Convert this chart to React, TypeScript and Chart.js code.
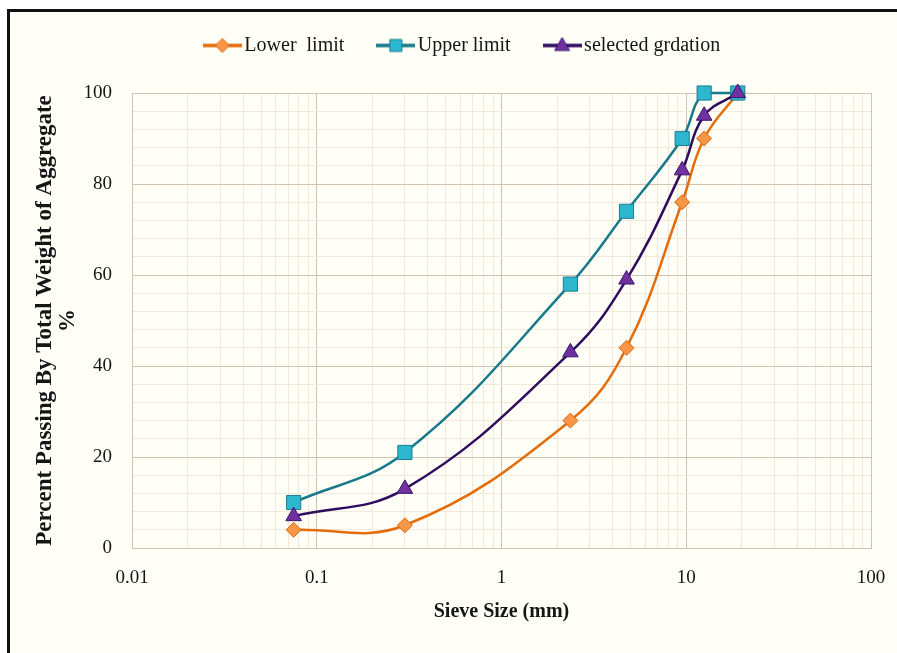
import React, { useEffect, useRef } from "react";
import { Chart, registerables } from "chart.js";

Chart.register(...registerables);

// ---- data ----
const sieveSizes = [0.075, 0.3, 2.36, 4.75, 9.5, 12.5, 19];
const lowerLimit = [4, 5, 28, 44, 76, 90, 100];
const upperLimit = [10, 21, 58, 74, 90, 100, 100];
const selectedGradation = [7, 13, 43, 59, 83, 95, 100];
const seriesNames = ["Lower  limit", "Upper limit", "selected grdation"];
const xDecades = [0.01, 0.1, 1, 10, 100];
const xTickLabels = ["0.01", "0.1", "1", "10", "100"];
const yTickLabels = ["0", "20", "40", "60", "80", "100"];
const xTitle = "Sieve Size (mm)";
const yTitle = ["Percent Passing By Total Weight of Aggregate", "%"];

// ---- styles ----
const FONT = "'Liberation Serif', 'Times New Roman', serif";
const GRID_MAJOR = "#d2c3b1";
const GRID_MINOR = "#f3e8da";
const TEXT = "#151515";

const seriesStyles = [
  { line: "#e46c0a", fill: "#f79646", edge: "#e0690a", shape: "rectRot", radius: 7.5 },
  { line: "#17798a", fill: "#2db6cf", edge: "#1b7d8f", shape: "rect", radius: 10 },
  { line: "#2e0d5e", fill: "#7030a0", edge: "#3b1670", shape: "triangle", radius: 9 },
];
// Chart.js draws higher "order" first (underneath): lower limit at bottom, selected on top
const drawOrder = [2, 1, 0];

function makeIcon(s: any): HTMLCanvasElement {
  const c = document.createElement("canvas");
  c.width = 39;
  c.height = 18;
  const ctx = c.getContext("2d")!;
  const cx = 19.5;
  const cy = 9;
  ctx.strokeStyle = s.line;
  ctx.lineWidth = 3.5;
  ctx.beginPath();
  ctx.moveTo(0, cy);
  ctx.lineTo(39, cy);
  ctx.stroke();
  ctx.beginPath();
  if (s.shape === "rectRot") {
    ctx.moveTo(cx - 7, cy);
    ctx.lineTo(cx, cy - 7);
    ctx.lineTo(cx + 7, cy);
    ctx.lineTo(cx, cy + 7);
  } else if (s.shape === "rect") {
    ctx.rect(cx - 6, cy - 6, 12, 12);
  } else {
    ctx.moveTo(cx, cy - 8);
    ctx.lineTo(cx + 7.5, cy + 5);
    ctx.lineTo(cx - 7.5, cy + 5);
  }
  ctx.closePath();
  ctx.fillStyle = s.fill;
  ctx.fill();
  ctx.strokeStyle = s.edge;
  ctx.lineWidth = 1;
  ctx.stroke();
  return c;
}

const LEGEND_PAD = 39.5;
const ICON_OVERHANG = 7.5;

const legendLayoutPlugin = {
  id: "legendLayout",
  beforeLayout(chart: any) {
    const lg = chart.legend;
    if (lg && !lg.__patched) {
      const orig = lg.fit;
      lg.fit = function () {
        orig.call(this);
        this.height = 93;
      };
      lg.__patched = true;
    }
  },
  afterLayout(chart: any) {
    const lg = chart.legend;
    if (!lg || !lg.lineWidths) return;
    const sum = lg.lineWidths[0];
    const x0 = (lg.left + LEGEND_PAD + lg.right - sum) / 2;
    const visStart = x0 - ICON_OVERHANG;
    const visEnd = x0 + sum - LEGEND_PAD;
    const dx = 461.5 - (visStart + visEnd) / 2;
    lg.left += dx;
    lg.right += dx;
    lg.top -= 4;
    lg.bottom -= 4;
  },
};

export default function App() {
  const ref = useRef<HTMLCanvasElement | null>(null);

  useEffect(() => {
    if (!ref.current) return;
    const icons = seriesStyles.map(makeIcon);
    const seriesValues = [lowerLimit, upperLimit, selectedGradation];

    const xGrid: number[] = [];
    for (let d = 0; d < xDecades.length - 1; d++) {
      for (let k = 1; k <= 9; k++) xGrid.push(xDecades[d] * k);
    }
    xGrid.push(xDecades[xDecades.length - 1]);

    const datasets = seriesValues.map((vals, i) => {
      const s = seriesStyles[i];
      return {
        label: seriesNames[i],
        data: vals.map((v, j) => ({ x: sieveSizes[j], y: v })),
        borderColor: s.line,
        backgroundColor: s.fill,
        borderWidth: 2.5,
        pointStyle: s.shape,
        pointRadius: s.radius,
        pointHoverRadius: s.radius,
        pointBackgroundColor: s.fill,
        pointBorderColor: s.edge,
        pointBorderWidth: 1,
        tension: 0.4,
        fill: false,
        clip: false,
        order: drawOrder[i],
      };
    });

    const chart = new Chart(ref.current, {
      type: "line",
      data: { datasets },
      plugins: [legendLayoutPlugin],
      options: {
        responsive: false,
        animation: false,
        devicePixelRatio: 1,
        layout: { padding: { left: 0, right: 26, top: 0, bottom: 0 } },
        plugins: {
          tooltip: { enabled: false },
          legend: {
            position: "top",
            align: "center",
            labels: {
              usePointStyle: true,
              pointStyleWidth: 24,
              padding: LEGEND_PAD,
              color: TEXT,
              font: { family: FONT, size: 20 },
              generateLabels: (c: any) => {
                const items = (Chart.defaults.plugins.legend.labels as any).generateLabels(c);
                return items.map((it: any) => ({
                  ...it,
                  pointStyle: icons[it.datasetIndex],
                  rotation: 0,
                }));
              },
              sort: (a: any, b: any) => a.datasetIndex - b.datasetIndex,
            },
          },
        },
        scales: {
          x: {
            type: "logarithmic",
            min: xDecades[0],
            max: xDecades[xDecades.length - 1],
            afterBuildTicks: (scale: any) => {
              scale.ticks = xGrid.map((v) => ({ value: v }));
            },
            afterFit: (scale: any) => {
              scale.height = 105;
              scale.paddingLeft = 0;
              scale.paddingRight = 0;
            },
            ticks: {
              autoSkip: false,
              maxRotation: 0,
              padding: 19,
              color: TEXT,
              font: { family: FONT, size: 19 },
              callback: (value: any) => {
                const i = xDecades.indexOf(Number(value));
                return i >= 0 ? xTickLabels[i] : "";
              },
            },
            grid: {
              drawTicks: false,
              lineWidth: 1,
              color: (c: any) =>
                c.tick && xDecades.includes(c.tick.value) ? GRID_MAJOR : GRID_MINOR,
            },
            border: { color: GRID_MAJOR, width: 1 },
            title: {
              display: true,
              text: xTitle,
              color: TEXT,
              font: { family: FONT, size: 20, weight: "bold" },
              padding: { top: 0, bottom: 29 },
            },
          },
          y: {
            type: "linear",
            min: 0,
            max: 100,
            afterFit: (scale: any) => {
              scale.width = 132;
            },
            ticks: {
              stepSize: 4,
              autoSkip: false,
              padding: 20,
              color: TEXT,
              font: { family: FONT, size: 19 },
              callback: (value: any) =>
                yTickLabels.includes(String(value)) ? String(value) : "",
            },
            grid: {
              drawTicks: false,
              lineWidth: 1,
              color: (c: any) =>
                c.tick && yTickLabels.includes(String(c.tick.value)) ? GRID_MAJOR : GRID_MINOR,
            },
            border: { color: GRID_MAJOR, width: 1 },
            title: {
              display: true,
              text: yTitle,
              color: TEXT,
              font: { family: FONT, size: 23, weight: "bold", lineHeight: 1.0 },
              padding: { top: 33.5, bottom: 0 },
            },
          },
        },
      } as any,
    });
    return () => chart.destroy();
  }, []);

  return (
    <div
      style={{
        position: "fixed",
        left: 0,
        top: 0,
        width: 897,
        height: 653,
        background: "#ffffff",
        overflow: "hidden",
      }}
    >
      <div
        style={{
          position: "absolute",
          left: 7,
          top: 9,
          width: 900,
          height: 660,
          borderTop: "3px solid #111",
          borderLeft: "3px solid #111",
          background: "#fffef7",
        }}
      />
      <canvas
        ref={ref}
        width={897}
        height={653}
        style={{ position: "absolute", left: 0, top: 0, width: 897, height: 653 }}
      />
    </div>
  );
}
